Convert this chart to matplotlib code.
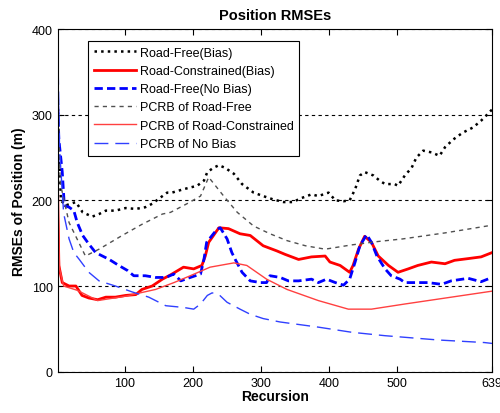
import matplotlib
matplotlib.use("Agg")
import matplotlib.pyplot as plt

plt.rcParams['font.family'] = ['Liberation Sans', 'DejaVu Sans']

# Road-Free(Bias)
rf_bias_x = [1, 3, 6, 13, 20, 28, 38, 52, 62, 72, 86, 101, 116, 130, 140, 150, 162, 169,
             186, 206, 216, 221, 230, 238, 247, 260, 272, 289, 303, 318, 333, 347, 357,
             374, 384, 399, 409, 421, 430, 438, 445, 452, 465, 474, 482, 496, 501, 511,
             521, 528, 538, 550, 562, 570, 582, 596, 611, 623, 633, 639]
rf_bias_y = [330, 260, 200, 194, 196, 198, 186, 181, 184, 188, 188, 191, 190, 192, 196, 202,
             209, 209, 213, 217, 223, 233, 238, 241, 238, 231, 219, 209, 205, 201, 198, 198,
             202, 207, 205, 209, 200, 199, 200, 213, 229, 233, 229, 223, 219, 219, 217, 229,
             238, 250, 258, 256, 252, 262, 271, 279, 285, 293, 301, 306]

# Road-Constrained(Bias)
rc_bias_x = [1, 3, 8, 18, 28, 37, 47, 60, 72, 86, 101, 116, 125, 140, 155, 167, 186, 201,
             213, 218, 223, 238, 252, 269, 284, 303, 323, 335, 355, 374, 394, 401, 416,
             430, 435, 443, 452, 462, 472, 487, 501, 516, 530, 550, 570, 584, 604, 623, 639]
rc_bias_y = [220, 124, 104, 100, 100, 89, 86, 84, 87, 87, 89, 90, 96, 100, 108, 113, 122, 120,
             124, 135, 151, 168, 167, 161, 159, 147, 141, 137, 131, 134, 135, 128, 124,
             116, 124, 143, 158, 151, 135, 124, 116, 120, 124, 128, 126, 130, 132, 134, 139]

# Road-Free(No Bias)
rf_nobias_x = [1, 3, 8, 11, 18, 25, 30, 38, 47, 57, 62, 77, 91, 104, 113, 130, 145, 160,
               172, 182, 196, 211, 216, 220, 235, 240, 250, 257, 262, 272, 284, 299, 308,
               313, 328, 340, 355, 374, 384, 396, 409, 421, 430, 438, 445, 455, 462, 470,
               482, 491, 504, 511, 530, 545, 565, 579, 604, 623, 639]
rf_nobias_y = [325, 271, 233, 194, 192, 188, 174, 159, 149, 139, 137, 131, 124, 118, 112, 112,
               110, 110, 114, 106, 110, 114, 131, 151, 166, 168, 155, 139, 131, 116, 106, 104,
               104, 112, 110, 106, 106, 108, 104, 108, 104, 101, 108, 128, 147, 160, 151, 135,
               120, 112, 108, 104, 104, 104, 102, 106, 109, 105, 110]

# PCRB of Road-Free
pcrb_rf_x = [1, 5, 18, 42, 62, 96, 125, 155, 167, 191, 211, 223, 245, 265, 289, 313, 338,
             365, 394, 433, 472, 508, 570, 639]
pcrb_rf_y = [330, 220, 174, 135, 143, 159, 172, 184, 186, 196, 205, 227, 205, 186, 170, 161,
             153, 147, 143, 148, 152, 155, 162, 171]

# PCRB of Road-Constrained
pcrb_rc_x = [1, 4, 10, 30, 60, 100, 145, 172, 196, 225, 260, 279, 308, 338, 384, 428, 462,
             511, 639]
pcrb_rc_y = [220, 120, 100, 95, 83, 88, 96, 104, 112, 122, 127, 124, 108, 96, 83, 73, 73,
             79, 94]

# PCRB of No Bias
pcrb_nb_x = [1, 4, 10, 18, 25, 33, 47, 62, 86, 111, 135, 160, 186, 201, 211, 221, 228, 238,
             250, 269, 284, 303, 328, 384, 433, 482, 560, 628, 639]
pcrb_nb_y = [400, 260, 185, 155, 139, 131, 116, 106, 100, 93, 87, 77, 75, 73, 79, 89, 92, 90,
             81, 73, 67, 62, 58, 52, 46, 42, 37, 34, 33]

x_ticks = [100, 200, 300, 400, 500, 639]
y_ticks = [0, 100, 200, 300, 400]

fig = plt.figure(figsize=(5.0, 4.14), dpi=100)
ax = fig.add_axes([0.115, 0.0998, 0.869, 0.8277])

ax.plot(rf_bias_x, rf_bias_y, color='k', ls=':', lw=1.8, label='Road-Free(Bias)')
ax.plot(rc_bias_x, rc_bias_y, color='#ff0000', ls='-', lw=2, label='Road-Constrained(Bias)')
ax.plot(rf_nobias_x, rf_nobias_y, color='#0000ff', ls='--', lw=2, dashes=(3, 1.5),
        label='Road-Free(No Bias)')
ax.plot(pcrb_rf_x, pcrb_rf_y, color='#505050', ls='--', lw=1, dashes=(3, 3),
        label='PCRB of Road-Free')
ax.plot(pcrb_rc_x, pcrb_rc_y, color='#ff4040', ls='-', lw=1, label='PCRB of Road-Constrained')
ax.plot(pcrb_nb_x, pcrb_nb_y, color='#3040ff', ls='--', lw=1, dashes=(10, 5),
        label='PCRB of No Bias')

ax.set_xlim(1, 639)
ax.set_ylim(0, 400)
ax.set_xticks(x_ticks)
ax.set_yticks(y_ticks)
ax.tick_params(direction='in', top=True, right=True, labelsize=9, length=4)
ax.yaxis.grid(True, color='k', ls='--', lw=0.8, dashes=(3, 3))
ax.set_axisbelow(True)

ax.set_title('Position RMSEs', fontsize=10.5, fontweight='bold', pad=7)
ax.set_xlabel('Recursion', fontsize=10, fontweight='bold', labelpad=0)
ax.set_ylabel('RMSEs of Position (m)', fontsize=10, fontweight='bold', labelpad=4)

leg = ax.legend(loc='upper left', bbox_to_anchor=(0.07, 0.965), fontsize=9, frameon=True,
                fancybox=False, edgecolor='k', handlelength=3.4, borderpad=0.45,
                labelspacing=0.5, handletextpad=0.3, borderaxespad=0, framealpha=1)
leg.get_frame().set_linewidth(0.8)

fig.savefig('out.png', dpi=100)
